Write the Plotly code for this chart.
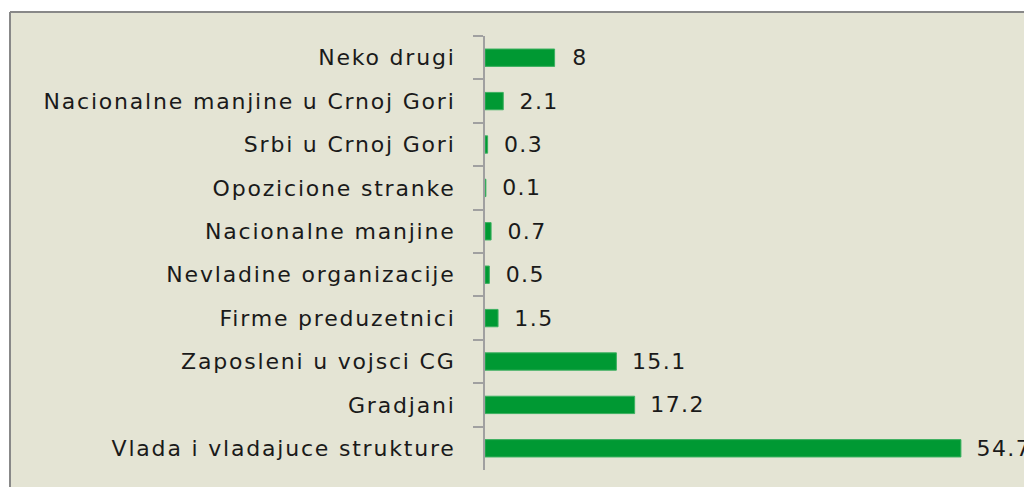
import plotly.graph_objects as go

categories = ["Neko drugi", "Nacionalne manjine u Crnoj Gori", "Srbi u Crnoj Gori",
              "Opozicione stranke", "Nacionalne manjine", "Nevladine organizacije",
              "Firme preduzetnici", "Zaposleni u vojsci CG", "Gradjani",
              "Vlada i vladajuce strukture"]
values = [8, 2.1, 0.3, 0.1, 0.7, 0.5, 1.5, 15.1, 17.2, 54.7]
value_labels = ["8", "2.1", "0.3", "0.1", "0.7", "0.5", "1.5", "15.1", "17.2", "54.7"]

BG = "#e4e4d4"
FONT = dict(family="DejaVu Sans", size=22, color="#1a1a1a")

fig = go.Figure(go.Bar(
    x=values, y=categories, orientation="h",
    marker=dict(color="#009933", line=dict(color="#3cb060", width=1)),
    width=0.40,
    text=["\u00a0\u00a0" + s for s in value_labels],
    textposition="outside", textfont=FONT, cliponaxis=False,
    constraintext="none",
))

TOP = (470 - 12) / 434
LEFT = (10 - 485) / 539

fig.update_layout(
    width=1024, height=487,
    margin=dict(l=485, r=0, t=36, b=17),
    paper_bgcolor=BG, plot_bgcolor=BG,
    showlegend=False,
    font=FONT,
    xaxis=dict(range=[0, 61.95], visible=False, showgrid=False, zeroline=False),
    yaxis=dict(autorange="reversed", showgrid=False, zeroline=False,
               showline=True, linecolor="#a0a0a0", linewidth=2,
               ticks="outside", ticklen=10, tickcolor="#a0a0a0", tickwidth=2,
               tickson="boundaries", ticklabelstandoff=23,
               tickfont=FONT),
    shapes=[
        dict(type="rect", xref="paper", yref="paper", x0=-0.95, x1=1.05,
             y0=TOP, y1=1.2, fillcolor="white", line=dict(width=0), layer="below"),
        dict(type="rect", xref="paper", yref="paper", x0=-0.95, x1=LEFT,
             y0=-0.2, y1=1.2, fillcolor="white", line=dict(width=0), layer="below"),
        dict(type="line", xref="paper", yref="paper", x0=LEFT, x1=1.05,
             y0=TOP, y1=TOP, line=dict(color="#888888", width=2)),
        dict(type="line", xref="paper", yref="paper", x0=LEFT, x1=LEFT,
             y0=-0.2, y1=TOP, line=dict(color="#888888", width=2)),
    ],
)

post = (
    "document.body.style.margin='0px';"
    "document.body.style.overflow='hidden';"
    "document.querySelectorAll('.ytick text').forEach(function(t){"
    "t.style.letterSpacing='1.8px';});"
    "document.querySelectorAll('.bartext').forEach(function(t){"
    "t.style.letterSpacing='1.4px';});"
)

fig.write_html("out.html", config={"displayModeBar": False}, post_script=post)
